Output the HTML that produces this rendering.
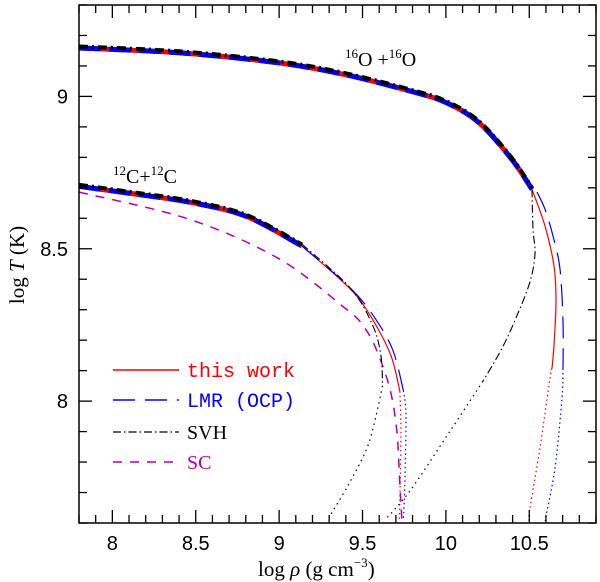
<!DOCTYPE html>
<html><head><meta charset="utf-8">
<style>
html,body{margin:0;padding:0;background:#fff;}
svg{display:block;}
text{font-family:"Liberation Serif",serif;}
.tick{font-family:"Liberation Sans",sans-serif;font-size:20px;}
</style></head>
<body>
<svg id="chart" width="600" height="582" viewBox="0 0 600 582">
  <g id="plot"></g>
  <g id="axes"></g>
  <text x="345" y="66" font-size="20"><tspan font-size="13" dy="-8">16</tspan><tspan dy="8">O +</tspan><tspan font-size="13" dy="-8">16</tspan><tspan dy="8">O</tspan></text>
  <text x="113" y="183" font-size="20"><tspan font-size="13" dy="-8">12</tspan><tspan dy="8">C+</tspan><tspan font-size="13" dy="-8">12</tspan><tspan dy="8">C</tspan></text>
  <text x="258" y="576" font-size="21">log <tspan font-style="italic">ρ</tspan> (g cm<tspan font-size="13" dy="-9">−3</tspan><tspan dy="9">)</tspan></text>
  <text transform="translate(24,265) rotate(-90)" text-anchor="middle" font-size="21">log <tspan font-style="italic">T</tspan> (K)</text>
  <g>
    <line x1="113" y1="370" x2="179" y2="370" stroke="#f00" stroke-width="1.5"/>
    <text x="187" y="377" font-size="20" fill="#f00" style="font-family:'Liberation Mono',monospace">this work</text>
    <line x1="113" y1="400" x2="179" y2="400" stroke="#00f" stroke-width="1.5" stroke-dasharray="22,10"/>
    <text x="187" y="407" font-size="20" fill="#00f" style="font-family:'Liberation Mono',monospace">LMR (OCP)</text>
    <line x1="113" y1="432" x2="179" y2="432" stroke="#000" stroke-width="1.2" stroke-dasharray="8,3,1.5,3"/>
    <text x="187" y="439" font-size="20" fill="#000">SVH</text>
    <line x1="113" y1="462" x2="179" y2="462" stroke="#b000b0" stroke-width="1.5" stroke-dasharray="9,8"/>
    <text x="187" y="469" font-size="20" fill="#b000b0">SC</text>
  </g>
</svg>
<script>
// x: log rho, y: log T
const xTicks = [8, 8.5, 9, 9.5, 10, 10.5];
const yTicks = [8, 8.5, 9];
const xTickLabels = ["8", "8.5", "9", "9.5", "10", "10.5"];
const yTickLabels = ["8", "8.5", "9"];

const oxyThickRho = [7.8, 8.4, 9.0, 9.4, 9.796, 10.0, 10.198, 10.396, 10.516];
const oxyThickT   = [9.159, 9.143, 9.11, 9.071, 9.016, 8.98, 8.914, 8.793, 8.695];
const oxyRedRho = [10.516, 10.594, 10.648, 10.66, 10.648, 10.636];
const oxyRedT   = [8.695, 8.575, 8.444, 8.326, 8.182, 8.107];
const oxyRedDotRho = [10.636, 10.624, 10.564, 10.504, 10.498];
const oxyRedDotT   = [8.107, 8.075, 7.846, 7.65, 7.607];
const oxyBlueRho = [10.546, 10.594, 10.642, 10.684, 10.702, 10.702];
const oxyBlueT   = [8.686, 8.63, 8.542, 8.434, 8.261, 8.107];
const oxyBlueDotRho = [10.702, 10.696, 10.654, 10.594];
const oxyBlueDotT   = [8.107, 8.01, 7.78, 7.607];
const oxySvhRho = [10.516, 10.522, 10.534, 10.504, 10.426, 10.336, 10.222];
const oxySvhT   = [8.695, 8.565, 8.483, 8.392, 8.28, 8.173, 8.065];
const oxySvhDotRho = [10.222, 10.024, 9.784, 9.634];
const oxySvhDotT   = [8.065, 7.901, 7.705, 7.61];

const carThickRho = [7.8, 8.13, 8.46, 8.8, 9.137];
const carThickT   = [8.705, 8.68, 8.653, 8.607, 8.509];
const carRedRho = [9.137, 9.425, 9.557, 9.67, 9.724];
const carRedT   = [8.509, 8.369, 8.271, 8.15, 8.032];
const carRedDotRho = [9.724, 9.73, 9.724, 9.72];
const carRedDotT   = [8.032, 7.90, 7.68, 7.61];
const carBlueRho = [9.137, 9.425, 9.565, 9.68, 9.745];
const carBlueT   = [8.509, 8.372, 8.28, 8.17, 8.035];
const carBlueDotRho = [9.745, 9.76, 9.755, 9.745];
const carBlueDotT   = [8.035, 7.96, 7.75, 7.61];
const carSvhRho = [9.137, 9.425, 9.56, 9.61, 9.62];
const carSvhT   = [8.515, 8.372, 8.25, 8.15, 8.05];
const carSvhDotRho = [9.62, 9.58, 9.527, 9.42, 9.305];
const carSvhDotT   = [8.05, 7.95, 7.846, 7.73, 7.624];
const carScRho = [7.8, 8.46, 8.999, 9.40, 9.503, 9.58, 9.664, 9.706, 9.724, 9.736];
const carScT   = [8.686, 8.597, 8.467, 8.303, 8.248, 8.173, 8.04, 7.90, 7.725, 7.61];

const X0 = 79, X1 = 596, Y0 = 5, Y1 = 523;
const xMin = 7.8, xMax = 10.9, yMin = 7.6, yMax = 9.3;
function sx(v){ return X0 + (v - xMin) / (xMax - xMin) * (X1 - X0); }
function sy(v){ return Y1 - (v - yMin) / (yMax - yMin) * (Y1 - Y0); }
const NS = "http://www.w3.org/2000/svg";
const plot = document.getElementById('plot');
const axes = document.getElementById('axes');

const clip = document.createElementNS(NS, 'clipPath');
clip.setAttribute('id', 'clipP');
const cr = document.createElementNS(NS, 'rect');
cr.setAttribute('x', X0); cr.setAttribute('y', Y0); cr.setAttribute('width', X1 - X0); cr.setAttribute('height', Y1 - Y0);
clip.appendChild(cr);
document.getElementById('chart').appendChild(clip);
plot.setAttribute('clip-path', 'url(#clipP)');

function curve(xs, ys, color, width, dash, name, dy){
  const p = document.createElementNS(NS, 'path');
  const P = xs.map((v, i) => [sx(v), sy(ys[i]) + (dy || 0)]);
  let d = 'M' + P[0][0].toFixed(1) + ',' + P[0][1].toFixed(1);
  for (let i = 0; i < P.length - 1; i++) {
    const p0 = P[Math.max(0, i - 1)], p1 = P[i], p2 = P[i + 1], p3 = P[Math.min(P.length - 1, i + 2)];
    const c1x = p1[0] + (p2[0] - p0[0]) / 6, c1y = p1[1] + (p2[1] - p0[1]) / 6;
    const c2x = p2[0] - (p3[0] - p1[0]) / 6, c2y = p2[1] - (p3[1] - p1[1]) / 6;
    d += 'C' + c1x.toFixed(1) + ',' + c1y.toFixed(1) + ' ' + c2x.toFixed(1) + ',' + c2y.toFixed(1) + ' ' + p2[0].toFixed(1) + ',' + p2[1].toFixed(1);
  }
  p.setAttribute('d', d);
  p.setAttribute('fill', 'none');
  p.setAttribute('stroke', color);
  p.setAttribute('stroke-width', width);
  p.setAttribute('stroke-linejoin', 'round');
  if (dash) p.setAttribute('stroke-dasharray', dash);
  
  
  plot.appendChild(p);
}

// carbon
curve(carScRho, carScT, '#b000b0', 1.5, '9,8', 'carbon-sc-curve');
curve(carSvhDotRho, carSvhDotT, '#000', 1.2, '1.5,4', 'carbon-svh-dotted');
curve(carRedDotRho, carRedDotT, '#f00', 1.2, '1.5,3', 'carbon-this-work-dotted');
curve(carBlueDotRho, carBlueDotT, '#00f', 1.2, '1.5,3', 'carbon-lmr-dotted');
curve(carRedRho, carRedT, '#f00', 1.2, null, 'carbon-this-work-curve');
curve(carBlueRho, carBlueT, '#00f', 1.2, '22,10', 'carbon-lmr-curve');
curve(carSvhRho, carSvhT, '#000', 1.1, '8,3,1.5,3', 'carbon-svh-curve');
curve(carThickRho, carThickT, '#f00', 5, null, 'carbon-this-work-thick');
curve(carThickRho, carThickT, '#00f', 5, '22,8', 'carbon-lmr-thick');
curve(carThickRho, carThickT, '#000', 4, '9,4,2,4', 'carbon-svh-thick', -1.5);

// oxygen
curve(oxySvhDotRho, oxySvhDotT, '#000', 1.2, '1.5,4', 'oxygen-svh-dotted');
curve(oxyRedDotRho, oxyRedDotT, '#f00', 1.2, '1.5,3', 'oxygen-this-work-dotted');
curve(oxyBlueDotRho, oxyBlueDotT, '#00f', 1.2, '1.5,3', 'oxygen-lmr-dotted');
curve(oxyRedRho, oxyRedT, '#f00', 1.2, null, 'oxygen-this-work-curve');
curve(oxyBlueRho, oxyBlueT, '#00f', 1.2, '22,10', 'oxygen-lmr-curve');
curve(oxySvhRho, oxySvhT, '#000', 1.1, '8,3,1.5,3', 'oxygen-svh-curve');
curve(oxyThickRho, oxyThickT, '#f00', 5, null, 'oxygen-this-work-thick');
curve(oxyThickRho, oxyThickT, '#00f', 5, '22,8', 'oxygen-lmr-thick');
curve(oxyThickRho, oxyThickT, '#000', 4, '9,4,2,4', 'oxygen-svh-thick', -1.5);

// frame
const fr = document.createElementNS(NS, 'rect');
fr.setAttribute('x', X0); fr.setAttribute('y', Y0); fr.setAttribute('width', X1 - X0); fr.setAttribute('height', Y1 - Y0);
fr.setAttribute('fill', 'none'); fr.setAttribute('stroke', '#000'); fr.setAttribute('stroke-width', '1.5');


axes.appendChild(fr);

function ln(x1, y1, x2, y2, name){
  const l = document.createElementNS(NS, 'line');
  l.setAttribute('x1', x1); l.setAttribute('y1', y1); l.setAttribute('x2', x2); l.setAttribute('y2', y2);
  l.setAttribute('stroke', '#000'); l.setAttribute('stroke-width', '1.3');
  
  
  axes.appendChild(l);
}
for (let i = 0; i <= 31; i++) {
  const v = xMin + i * 0.1;
  if (v > xMax + 1e-6) break;
  const major = Math.abs(v * 2 - Math.round(v * 2)) < 1e-6;
  const L = major ? 13 : 8;
  ln(sx(v), Y1, sx(v), Y1 - L, 'x-tick');
  ln(sx(v), Y0, sx(v), Y0 + L, 'x-tick-top');
}
for (let i = 0; i <= 17; i++) {
  const v = yMin + i * 0.1;
  if (v > yMax + 1e-6) break;
  const major = Math.abs(v * 2 - Math.round(v * 2)) < 1e-6;
  const L = major ? 13 : 8;
  ln(X0, sy(v), X0 + L, sy(v), 'y-tick');
  ln(X1, sy(v), X1 - L, sy(v), 'y-tick-right');
}
xTicks.forEach((v, i) => {
  const t = document.createElementNS(NS, 'text');
  t.setAttribute('x', sx(v)); t.setAttribute('y', 550);
  t.setAttribute('text-anchor', 'middle'); t.setAttribute('class', 'tick');
  t.textContent = xTickLabels[i];
  
  
  axes.appendChild(t);
});
yTicks.forEach((v, i) => {
  const t = document.createElementNS(NS, 'text');
  t.setAttribute('x', 68); t.setAttribute('y', sy(v) + 7);
  t.setAttribute('text-anchor', 'end'); t.setAttribute('class', 'tick');
  t.textContent = yTickLabels[i];
  
  
  axes.appendChild(t);
});
</script>
</body></html>
